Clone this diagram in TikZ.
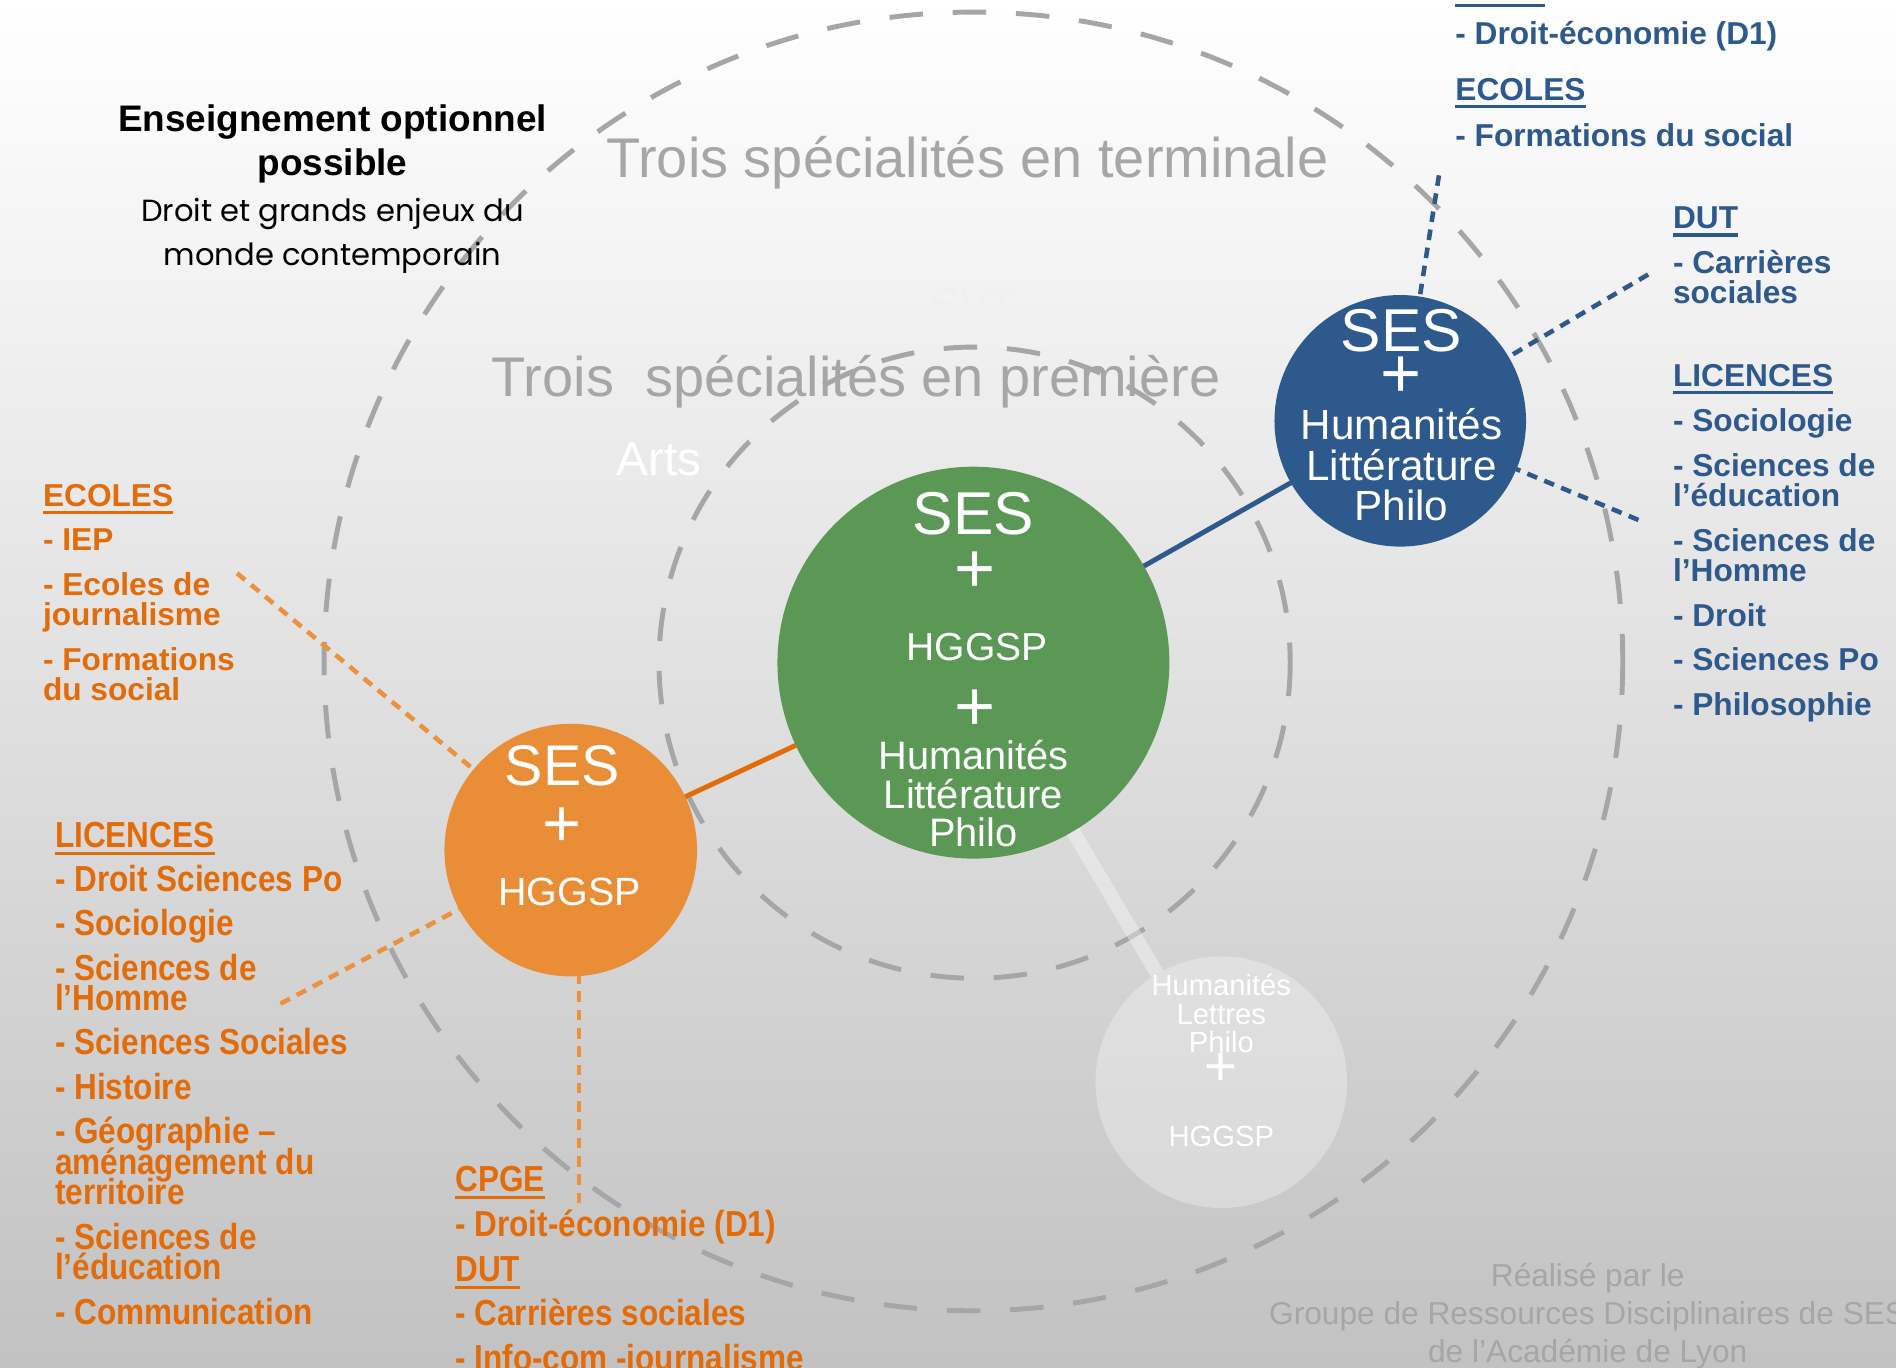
\documentclass[tikz,border=0pt]{standalone}
\usepackage{fontspec}
\setmainfont{Liberation Sans}
\newfontfamily\etroite[FakeStretch=0.87]{Liberation Sans}
\newfontfamily\gothique{Poppins}
\newcommand{\serre}{\lineskiplimit=-20pt\relax}
\newcommand{\souligne}[1]{\leavevmode\setbox0\hbox{#1}\rlap{\rule[-2.2pt]{\wd0}{0.9pt}}\box0}

\definecolor{gris}{RGB}{166,166,166}
\definecolor{vert}{RGB}{91,152,86}
\definecolor{orangeRond}{RGB}{233,142,55}
\definecolor{orangeTexte}{RGB}{227,108,10}
\definecolor{orangePoint}{RGB}{236,145,60}
\definecolor{bleu}{RGB}{46,89,140}

\tikzset{
    tirets/.style={gris, line width=1.4pt, dash pattern=on 9.5pt off 8.5pt},
    pastille/.style={circle, inner sep=0pt, outer sep=0pt, draw=none},
    blanc/.style={text=white, inner sep=0pt, anchor=base},
    liste/.style={align=left, anchor=north west, inner sep=0pt},
    pointOr/.style={orangePoint, line width=1.3pt, dash pattern=on 3pt off 2.2pt},
    pointBl/.style={bleu, line width=1.3pt, dash pattern=on 3pt off 2.2pt},
}

\begin{document}
\begin{tikzpicture}[x=0.3437pt, y=-0.3437pt]
        % Fond
        \useasboundingbox (0,0) rectangle (1568,1131);
        \clip (0,0) rectangle (1568,1131);
        \fill[top color=white, middle color=black!5, bottom color=black!24] (0,0) rectangle (1568,1131);

        % Cercles en tirets
        \draw[tirets] (805,547) circle (537);
        \draw[tirets] (806,548) circle (261);

        % Textes fantomes
        \node[text=black!6, font=\fontsize{12.4}{12}\selectfont] (svt) at (805,252) {SVT};
        \node[text=white, font=\fontsize{13.5}{13}\selectfont] (arts) at (545,380) {Arts};

        % Titres
        \node[gris, anchor=base, font=\fontsize{15.9}{16}\selectfont] (terminale) at (800,146.5) {Trois spécialités en terminale};
        \node[gris, anchor=base, font=\fontsize{15.9}{16}\selectfont] (premiere) at (708,328) {Trois~ spécialités en première};

        \node[anchor=north, align=center, inner sep=0pt, font=\bfseries\fontsize{10.5}{12.4}\selectfont] (option) at (275,86) {Enseignement optionnel\\possible};
        \node[anchor=north, align=center, inner sep=0pt, font=\gothique\fontsize{8.7}{12.7}\selectfont] (droit) at (275,163) {Droit et grands enjeux du\\monde contemporain};

        % Pastilles
        \node[pastille, fill=white, fill opacity=0.3, minimum size=71.5pt] (fantome) at (1010,895) {};
        \node[pastille, fill=vert, minimum size=111.4pt] (premTerm) at (805,548) {};
        \node[pastille, fill=orangeRond, minimum size=71.8pt] (seconde) at (472,703) {};
        \node[pastille, fill=bleu, minimum size=71.5pt] (humanites) at (1158,348) {};

        % Liens
        \draw[white, opacity=0.35, line width=4pt] (premTerm) -- (fantome);
        \draw[orangeTexte, line width=1.4pt] (seconde) -- (premTerm);
        \draw[bleu, line width=1.4pt] (premTerm) -- (humanites);

        \coordinate (pEcolesO) at (196,474);
        \coordinate (pLicencesO) at (232,830);
        \coordinate (pCpgeO) at (479,995);
        \draw[pointOr] (pEcolesO) -- (seconde);
        \draw[pointOr] (pLicencesO) -- (seconde);
        \draw[pointOr] (pCpgeO) -- (pCpgeO |- seconde.south);

        \coordinate (pEcolesB) at (1190,145);
        \coordinate (pDutB) at (1363,227);
        \coordinate (pLicencesB) at (1355,430);
        \draw[pointBl] (pEcolesB) -- (humanites);
        \draw[pointBl] (pDutB) -- (humanites);
        \draw[pointBl] (pLicencesB) -- (humanites);

        % Texte des pastilles
        \node[blanc, font=\fontsize{17.2}{17}\selectfont] (vSes) at (805,442) {SES};
        \node[blanc, anchor=center, font=\fontsize{20}{20}\selectfont] (vPlusA) at (806,473) {+};
        \node[blanc, font=\fontsize{11.1}{11}\selectfont] (vHggsp) at (808,546.5) {HGGSP};
        \node[blanc, anchor=center, font=\fontsize{20}{20}\selectfont] (vPlusB) at (806,587) {+};
        \node[blanc, font=\fontsize{11.3}{11}\selectfont] (vHum) at (805,636) {Humanités};
        \node[blanc, font=\fontsize{11.3}{11}\selectfont] (vLit) at (805,669) {Littérature};
        \node[blanc, font=\fontsize{11.3}{11}\selectfont] (vPhilo) at (805,700) {Philo};

        \node[blanc, font=\fontsize{17.2}{17}\selectfont] (bSes) at (1159,291) {SES};
        \node[blanc, anchor=center, font=\fontsize{20}{20}\selectfont] (bPlus) at (1159,312) {+};
        \node[blanc, font=\fontsize{12}{12}\selectfont] (bHum) at (1159,363.5) {Humanités};
        \node[blanc, font=\fontsize{12}{12}\selectfont] (bLit) at (1159,397.5) {Littérature};
        \node[blanc, font=\fontsize{12}{12}\selectfont] (bPhilo) at (1159,430.5) {Philo};

        \node[blanc, font=\fontsize{16.3}{16}\selectfont] (oSes) at (465,650) {SES};
        \node[blanc, anchor=center, font=\fontsize{19}{19}\selectfont] (oPlus) at (465,684) {+};
        \node[blanc, font=\fontsize{11.2}{11}\selectfont] (oHggsp) at (471,749) {HGGSP};

        \node[blanc, font=\fontsize{8.3}{8}\selectfont] (fHum) at (1010,823.5) {Humanités};
        \node[blanc, font=\fontsize{8.3}{8}\selectfont] (fLet) at (1010,847.5) {Lettres};
        \node[blanc, font=\fontsize{8.3}{8}\selectfont] (fPhilo) at (1010,870.5) {Philo};
        \node[blanc, anchor=center, font=\fontsize{16}{16}\selectfont] (fPlus) at (1010,884) {+};
        \node[blanc, font=\fontsize{8.3}{8}\selectfont] (fHggsp) at (1010,948.5) {HGGSP};

        % Debouches orange
        \node[liste, orangeTexte, font={\bfseries\fontsize{9}{8.6}\selectfont\serre}] (ecolesO) at (35,399.7)
            {\souligne{ECOLES}\\[4.1pt]- IEP\\[4.1pt]- Ecoles de\\journalisme\\[4.1pt]- Formations\\du social};
        \node[liste, orangeTexte, font={\etroite\bfseries\fontsize{10.3}{8.7}\selectfont\serre}] (licencesO) at (45,679)
            {\souligne{LICENCES}\\[3.9pt]- Droit Sciences Po\\[3.9pt]- Sociologie\\[3.9pt]- Sciences de\\l’Homme\\[3.9pt]- Sciences Sociales\\[3.9pt]- Histoire\\[3.9pt]- Géographie –\\aménagement du\\territoire\\[3.9pt]- Sciences de\\l’éducation\\[3.9pt]- Communication};
        \node[liste, orangeTexte, font={\etroite\bfseries\fontsize{10.3}{8.7}\selectfont\serre}] (cpgeO) at (376,964)
            {\souligne{CPGE}\\[4pt]- Droit-économie (D1)\\[4pt]\souligne{DUT}\\[4pt]- Carrières sociales\\[4pt]- Info-com -journalisme};

        % Debouches bleus
        \node[liste, bleu, font={\bfseries\fontsize{9}{8.6}\selectfont\serre}] (cpgeB) at (1203,-19.4)
            {\souligne{CPGE}\\[4.3pt]- Droit-économie (D1)\\[7.2pt]\souligne{ECOLES}\\[4.5pt]- Formations du social};
        \node[liste, bleu, font={\bfseries\fontsize{9}{8.6}\selectfont\serre}] (dutB) at (1383,170.6)
            {\souligne{DUT}\\[4.1pt]- Carrières\\sociales};
        \node[liste, bleu, font={\bfseries\fontsize{9}{8.6}\selectfont\serre}] (licencesB) at (1383,300.6)
            {\souligne{LICENCES}\\[4.3pt]- Sociologie\\[4.1pt]- Sciences de\\l’éducation\\[4.1pt]- Sciences de\\l’Homme\\[4.1pt]- Droit\\[4.1pt]- Sciences Po\\[4.1pt]- Philosophie};

        % Signature
        \node[gris, anchor=north, align=center, inner sep=0pt, font=\fontsize{9}{10.8}\selectfont] (signature) at (1313,1044)
            {Réalisé par le\\Groupe de Ressources Disciplinaires de SES\\de l’Académie de Lyon};
    \end{tikzpicture}
\end{document}
